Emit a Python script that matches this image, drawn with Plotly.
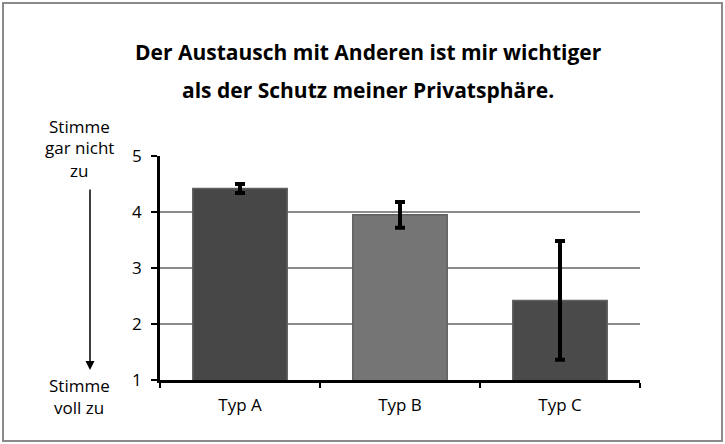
import plotly.graph_objects as go

categories = ["Typ A", "Typ B", "Typ C"]
values = [4.42, 3.95, 2.42]
errors = [0.08, 0.23, 1.06]
bar_colors = ["#474747", "#757575", "#4a4a4a"]
y_ticks = [1, 2, 3, 4, 5]

W, H = 725, 444
L, T = 160, 156
pw, ph = 480, 224
R, B = W - L - pw, H - T - ph

def px(x):
    return (x - L) / pw

def py(y):
    return (H - B - y) / ph

fig = go.Figure()
fig.add_trace(go.Bar(
    x=categories, y=values, base=0,
    marker=dict(color=bar_colors, line=dict(color="#606060", width=1.5)),
    width=0.59,
    error_y=dict(type="data", array=errors, visible=True, color="black", thickness=4, width=5),
    showlegend=False,
))

font_fam = "Open Sans, Noto Sans, sans-serif"
fig.update_layout(
    width=W, height=H,
    margin=dict(l=L, r=R, t=T, b=B),
    paper_bgcolor="white", plot_bgcolor="white",
    font=dict(family=font_fam, color="black", size=17),
    xaxis=dict(
        showline=True, linecolor="black", linewidth=2.5,
        ticks="outside", tickson="boundaries", ticklen=5, tickwidth=1.5, tickcolor="black",
        tickfont=dict(size=17), showgrid=False, ticklabelstandoff=8,
    ),
    yaxis=dict(
        range=[1, 5], tickvals=y_ticks, showline=True, linecolor="black", linewidth=2.5,
        ticks="outside", ticklen=6, tickwidth=2, tickcolor="black",
        tickfont=dict(size=17), showgrid=True, gridcolor="#8c8c8c", gridwidth=1.5,
        zeroline=False, ticklabelstandoff=6,
    ),
    bargap=0.41,
)

# title lines
fig.add_annotation(text="<b>Der Austausch mit Anderen ist mir wichtiger</b>", xref="paper", yref="paper",
                   x=px(368), y=py(52), showarrow=False, font=dict(size=21), xanchor="center", yanchor="middle")
fig.add_annotation(text="<b>als der Schutz meiner Privatsphäre.</b>", xref="paper", yref="paper",
                   x=px(368), y=py(90), showarrow=False, font=dict(size=21), xanchor="center", yanchor="middle")

# left-side labels
for txt, yy in [("Stimme", 126), ("gar nicht", 148), ("zu", 170), ("Stimme", 385), ("voll zu", 407)]:
    fig.add_annotation(text=txt, xref="paper", yref="paper", x=px(79), y=py(yy),
                       showarrow=False, font=dict(size=17), xanchor="center", yanchor="middle")

# arrow
fig.add_annotation(x=px(90), y=py(370), ax=0, ay=-(370 - 188), xref="paper", yref="paper",
                   axref="pixel", ayref="pixel", showarrow=True, arrowhead=2, arrowsize=1.2,
                   arrowwidth=1.5, arrowcolor="black", text="")

# outer border
fig.add_shape(type="rect", xref="paper", yref="paper", x0=px(3), x1=px(722), y0=py(441), y1=py(3),
              line=dict(color="#8a8a8a", width=2), fillcolor="rgba(0,0,0,0)", layer="below")

fig.write_html("out.html", config={"displayModeBar": False},
               post_script="document.body.style.margin='0';")
